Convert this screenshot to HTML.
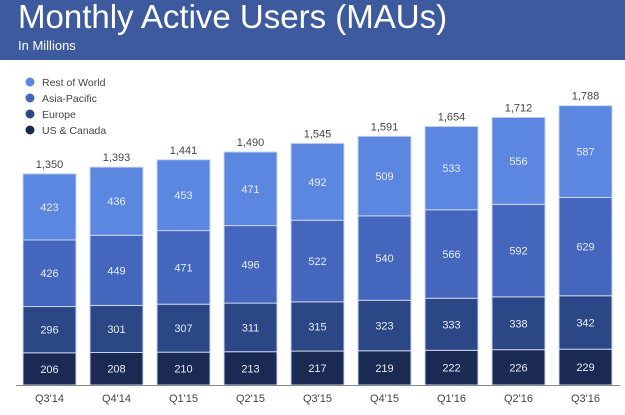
<!DOCTYPE html>
<html><head><meta charset="utf-8"><style>
body{margin:0;width:625px;height:415px;background:#fff;font-family:"Liberation Sans",sans-serif;overflow:hidden;position:relative}
#hdr{position:absolute;left:0;top:0;width:625px;height:60px;background:#3d5a9e}
#t{position:absolute;left:18px;top:-2px;color:#fff;font-size:33px}
#s{position:absolute;left:18px;top:38px;color:#fff;font-size:13px}
</style></head><body>
<div id="hdr">
<div id="t">Monthly Active Users (MAUs)</div>
<div id="s">In Millions</div>
</div>
<svg id="c" width="625" height="415" style="position:absolute;left:0;top:0"></svg>
<script>
const categories=["Q3'14","Q4'14","Q1'15","Q2'15","Q3'15","Q4'15","Q1'16","Q2'16","Q3'16"];
const usCanada=[206,208,210,213,217,219,222,226,229];
const europe=[296,301,307,311,315,323,333,338,342];
const asiaPacific=[426,449,471,496,522,540,566,592,629];
const restOfWorld=[423,436,453,471,492,509,533,556,587];
const totals=["1,350","1,393","1,441","1,490","1,545","1,591","1,654","1,712","1,788"];
const seriesNames=["Rest of World","Asia-Pacific","Europe","US & Canada"];
const NS="http://www.w3.org/2000/svg",svg=document.getElementById('c');
const base=385,k=0.1563,x0=23,step=67,bw=53;
const y=v=>base-v*k, x=i=>x0+i*step;
const series=[usCanada,europe,asiaPacific,restOfWorld];
const colors=["#1b2a52","#2c4785","#4467bd","#5b87e0"];
const snames=["us-canada","europe","asia-pacific","rest-of-world"];
function mk(t,a){const e=document.createElementNS(NS,t);for(const q in a)e.setAttribute(q,a[q]);svg.appendChild(e);return e;}
categories.forEach((c,i)=>{
 let cum=0;
 series.forEach((s,j)=>{
  const v=s[i],top=y(cum+v),bot=y(cum);
  const r=mk('rect',{x:x(i),y:top,width:bw,height:bot-top,fill:colors[j],stroke:'#c9d3ea','stroke-width':1});
  
  
  const t=mk('text',{x:x(i)+bw/2,y:(top+bot)/2+4,'text-anchor':'middle','font-size':11,fill:'#e6ebf7'});
  t.textContent=v;
  
  
  cum+=v;
 });
 const tt=mk('text',{x:x(i)+bw/2,y:y(cum)-6,'text-anchor':'middle','font-size':11,fill:'#444'});
 tt.textContent=totals[i];
 
 
 const xl=mk('text',{x:x(i)+bw/2,y:402,'text-anchor':'middle','font-size':11,fill:'#444'});
 xl.textContent=c;
 
 
});
const ax=mk('line',{x1:16,y1:385.5,x2:620,y2:385.5,stroke:'#888','stroke-width':1});


seriesNames.forEach((n,j)=>{
 const yy=82+j*16;
 const ci=mk('circle',{cx:30,cy:yy,r:4.5,fill:colors[3-j]});
 
 
 const t=mk('text',{x:42,y:yy+4,'font-size':10.5,fill:'#444'});
 t.textContent=n;
 
 
});
</script>
</body></html>
